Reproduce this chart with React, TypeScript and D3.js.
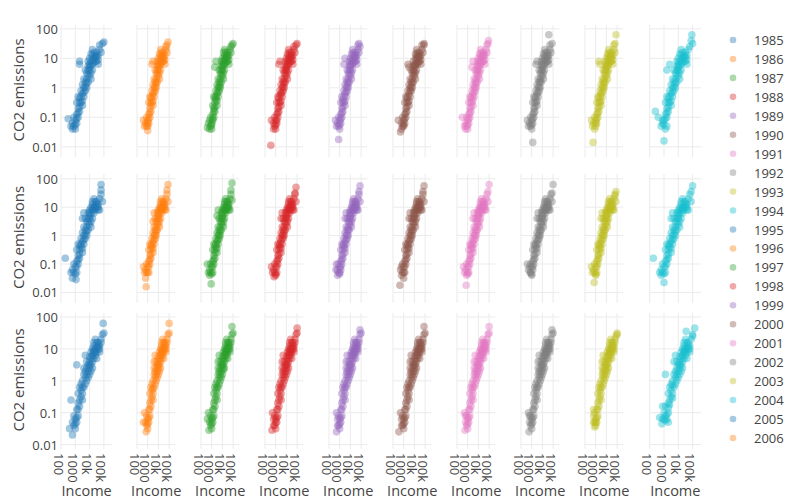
import React from "react";
import * as d3 from "d3";

// Years shown as facets (10 per row) and in the legend (first 22 visible)
const years = [1985,1986,1987,1988,1989,1990,1991,1992,1993,1994,1995,1996,1997,1998,1999,2000,2001,2002,2003,2004,2005,2006,2007,2008,2009,2010,2011,2012,2013,2014];
const legendYears = [1985,1986,1987,1988,1989,1990,1991,1992,1993,1994,1995,1996,1997,1998,1999,2000,2001,2002,2003,2004,2005,2006];
const palette = ["#1f77b4","#ff7f0e","#2ca02c","#d62728","#9467bd","#8c564b","#e377c2","#7f7f7f","#bcbd22","#17becf"];
const xTicks = [100, 1000, 10000, 100000];
const xTickLabels = ["100", "1000", "10k", "100k"];
const yTicks = [0.01, 0.1, 1, 10, 100];
const yTickLabels = ["0.01", "0.1", "1", "10", "100"];

// Per-year points as flat pairs: log10(income), log10(CO2 emissions)
const p1985 = [2.5,-1.05,2.7,-1.3,2.8,-1.4,2.8,-1.2,2.9,-1.3,2.9,-1,3,-1.4,3,-1.1,3.1,-1.2,3.1,-.9,3.2,-1,3.2,-.7,3.1,-.5,3.2,-.3,3.3,-.8,3.3,-.5,3.4,-.5,3.4,-.1,3.5,-.6,3.5,-.2,3.5,.1,3.6,-.3,3.6,0,3.7,-.1,3.7,.2,3.6,.3,3.8,0,3.8,.3,3.8,.5,3.9,.2,3.9,.6,4,.4,4,.7,4.1,.5,4.1,.3,3.7,.6,3.3,.9,3.3,.8,4.2,.6,3.9,.9,4,1,4.1,.9,4.2,1.1,4.2,.8,4.3,1,4.3,1.2,4.4,.9,4.4,1.1,4.5,1.2,4.5,.9,4.6,1.1,4.6,.8,4.2,1.3,4,.8,4.7,1.3,4.7,1.45,4.8,1.2,4.9,1.5,5,1.55,
  3,-1.25,3.1,-1.05,3.2,-.85,3.3,-.65,3.3,-.35,3.4,-.3,3.5,-.45,3.6,-.15,3.7,.05,3.8,.15,3.9,.45,4,.6,4.1,.75,4.2,.95,4.3,.85,4.4,1.05,4.5,1.05,4.6,.95,3.9,.75,4.1,1.15];
const p1986 = [2.6,-1.1,2.7,-1.3,3,-1.45,2.8,-1.2,2.9,-1.3,2.9,-1,3,-1.3,3,-1.1,3.1,-1.2,3.1,-.9,3.2,-1,3.2,-.7,3.1,-.5,3.2,-.3,3.3,-.8,3.3,-.5,3.4,-.5,3.4,-.1,3.5,-.6,3.5,-.2,3.5,.1,3.6,-.3,3.6,0,3.7,-.1,3.7,.2,3.6,.3,3.8,0,3.8,.3,3.8,.5,3.9,.2,3.9,.6,4,.4,4,.7,4.1,.5,4.1,.3,3.7,.6,3.4,.8,3.5,.9,4.2,.6,3.9,.9,4,1,4.1,.9,4.2,1.1,4.2,.8,4.3,1,4.3,1.2,4.4,.9,4.4,1.1,4.5,1.2,4.5,.9,4.6,1.1,4.6,.8,4.2,1.3,4,.8,4.7,1.3,4.7,1.4,4.8,1.2,4.8,1.45,4.9,1.55,
  3,-1.2,3.1,-1.05,3.2,-.85,3.3,-.6,3.3,-.35,3.4,-.3,3.5,-.45,3.6,-.15,3.7,.05,3.8,.15,3.9,.45,4,.6,4.1,.75,4.2,.95,4.3,.85,4.4,1.05,4.5,1,4.6,.95,3.9,.75,4.1,1.15];
const p1987 = [2.6,-1.35,2.7,-1.2,2.8,-1.4,2.8,-1.1,2.9,-1.3,2.9,-1,3,-1.4,3,-1.2,3.1,-1.1,3.1,-.9,3.2,-1,3.2,-.7,3.1,-.6,3.2,-.3,3.3,-.8,3.3,-.5,3.4,-.4,3.4,-.1,3.5,-.6,3.5,-.2,3.5,.1,3.6,-.3,3.6,0,3.7,-.1,3.7,.2,3.6,.3,3.8,0,3.8,.3,3.8,.5,3.9,.2,3.9,.6,4,.4,4,.7,4.1,.5,4.1,.3,3.7,.6,3.4,.9,3.3,.7,4.2,.6,3.9,.9,4,1,4.1,.9,4.2,1.1,4.2,.8,4.3,1,4.3,1.2,4.4,.9,4.4,1.1,4.5,1.2,4.5,.9,4.6,1.1,4.6,.8,4.2,1.3,4,.8,4.7,1.3,4.8,1.4,4.8,1.2,4.9,1.45,5,1.5,
  3,-1.25,3.1,-1.05,3.2,-.8,3.3,-.65,3.3,-.35,3.4,-.3,3.5,-.45,3.6,-.15,3.7,.05,3.8,.1,3.9,.45,4,.6,4.1,.75,4.2,.95,4.3,.85,4.4,1.05,4.5,1.05,4.6,.95,3.9,.75,4.1,1.2];
const p1988 = [2.55,-1.95,2.6,-1.1,2.8,-1.4,2.8,-1.2,2.9,-1.3,2.9,-1,3,-1.4,3,-1.1,3.1,-1.2,3.1,-.9,3.2,-1,3.2,-.7,3.1,-.5,3.2,-.3,3.3,-.8,3.3,-.5,3.4,-.5,3.4,-.1,3.5,-.6,3.5,-.2,3.5,.1,3.6,-.3,3.6,0,3.7,-.1,3.7,.2,3.6,.3,3.8,0,3.8,.3,3.8,.5,3.9,.2,3.9,.6,4,.4,4,.7,4.1,.5,4.1,.3,3.7,.6,3.4,.9,3.3,.8,4.2,.6,3.9,.9,4,1,4.1,.9,4.2,1.1,4.2,.8,4.3,1,4.3,1.2,4.4,.9,4.4,1.1,4.5,1.2,4.5,.9,4.6,1.1,4.6,.8,4.2,1.3,4,.8,4.7,1.3,4.7,1.4,4.8,1.2,4.9,1.45,5,1.5,
  3,-1.25,3.1,-1.1,3.2,-.85,3.3,-.65,3.3,-.35,3.4,-.25,3.5,-.45,3.6,-.15,3.7,.05,3.8,.15,3.9,.45,4,.6,4.1,.75,4.2,.95,4.3,.85,4.4,1.05,4.5,1.05,4.6,.95,3.9,.7,4.1,1.15];
const p1989 = [2.6,-1.1,2.7,-1.3,2.9,-1.75,2.8,-1.2,2.9,-1.3,2.9,-1,3,-1.4,3,-1.1,3.1,-1.2,3.1,-.9,3.2,-1,3.2,-.7,3.1,-.5,3.2,-.3,3.3,-.8,3.3,-.5,3.4,-.5,3.4,-.1,3.5,-.6,3.5,-.2,3.5,.1,3.6,-.3,3.6,0,3.7,-.1,3.7,.2,3.6,.3,3.8,0,3.8,.3,3.8,.5,3.9,.2,3.9,.6,4,.4,4,.7,4.1,.5,4.1,.3,3.7,.6,3.4,.8,3.5,1,4.2,.6,3.9,.9,4,1,4.1,.9,4.2,1.1,4.2,.8,4.3,1,4.3,1.2,4.4,.9,4.4,1.1,4.5,1.2,4.5,.9,4.6,1.1,4.6,.8,4.2,1.3,4,.8,4.7,1.3,4.7,1.45,4.8,1.2,4.8,1.5,4.9,1.4,
  3,-1.25,3.1,-1.05,3.2,-.85,3.3,-.65,3.3,-.4,3.4,-.3,3.5,-.45,3.6,-.15,3.7,.05,3.8,.15,3.9,.45,4,.6,4.1,.8,4.2,.95,4.3,.85,4.4,1.05,4.5,1.05,4.6,.95,3.9,.75,4.1,1.15];
const p1990 = [2.5,-1.1,2.7,-1.5,2.8,-1.4,2.8,-1.2,2.9,-1.3,2.9,-1,3,-1.3,3,-1.1,3.1,-1.2,3.1,-.9,3.2,-1,3.2,-.7,3.1,-.5,3.2,-.3,3.3,-.8,3.3,-.5,3.4,-.5,3.4,-.1,3.5,-.6,3.5,-.2,3.5,.1,3.6,-.3,3.6,0,3.7,-.1,3.7,.2,3.6,.3,3.8,0,3.8,.3,3.8,.5,3.9,.2,3.9,.6,4,.4,4,.7,4.1,.5,4.1,.3,3.7,.6,3.4,.8,3.5,.7,4.2,.6,3.9,.9,4.1,1,4.1,.8,4.2,1.1,4.3,.8,4.3,1,4.3,1.2,4.4,.9,4.4,1.1,4.5,1.2,4.5,.9,4.6,1.1,4.6,.8,4.2,1.3,4,.8,4.7,1.3,4.7,1.45,4.8,1.2,4.9,1.45,4.9,1.5,
  3,-1.25,3.1,-1.05,3.2,-.85,3.3,-.65,3.3,-.35,3.4,-.3,3.5,-.45,3.6,-.1,3.7,.05,3.8,.15,3.9,.45,4,.55,4.1,.75,4.2,.95,4.3,.85,4.4,1.05,4.5,1.05,4.6,.95,3.9,.75,4.1,1.15];
const p1991 = [2.5,-1,2.7,-1.3,2.8,-1.4,2.8,-1.2,2.9,-1.3,2.9,-1,3,-1.4,3,-1.1,3.1,-1.2,3.1,-.9,3.2,-1,3.2,-.7,3.1,-.5,3.2,-.3,3.3,-.8,3.3,-.5,3.4,-.5,3.4,-.1,3.5,-.6,3.5,-.2,3.5,.1,3.6,-.3,3.6,0,3.7,-.1,3.7,.2,3.6,.3,3.8,0,3.8,.3,3.8,.5,3.9,.2,3.9,.6,4,.4,4,.7,4.1,.5,4.1,.3,3.7,.6,3.5,.9,3.4,.7,4.2,.6,3.9,.9,4,1,4.1,.9,4.2,1.1,4.2,.8,4.3,1,4.3,1.2,4.4,.9,4.4,1.1,4.5,1.2,4.5,.9,4.6,1.1,4.6,.8,4.2,1.3,4,.8,4.7,1.3,4.8,1.45,4.8,1.2,4.9,1.5,4.95,1.6,
  3,-1.25,3.1,-1.05,3.2,-.85,3.3,-.65,3.3,-.35,3.4,-.3,3.5,-.4,3.6,-.15,3.7,.05,3.8,.15,3.9,.45,4,.6,4.1,.75,4.2,.95,4.3,.85,4.4,1.05,4.5,1.1,4.6,.95,3.9,.75,4.1,1.15];
const p1992 = [2.6,-1.1,2.7,-1.3,3.1,-1.85,2.8,-1.2,2.9,-1.3,2.9,-1,3,-1.4,3,-1.1,3.1,-1.2,3.1,-.9,3.2,-1,3.2,-.7,3.1,-.5,3.2,-.3,3.3,-.8,3.3,-.5,3.4,-.5,3.4,-.1,3.5,-.6,3.5,-.2,3.5,.1,3.6,-.3,3.6,0,3.7,-.1,3.7,.2,3.6,.3,3.8,0,3.8,.3,3.8,.5,3.9,.2,3.9,.6,4,.4,4,.7,4.1,.5,4.1,.3,3.7,.6,3.4,.8,3.5,.9,4.2,.6,3.9,.9,4,1,4.1,.9,4.2,1.1,4.2,.8,4.3,1,4.3,1.2,4.4,.9,4.4,1.1,4.5,1.2,4.5,.9,4.6,1.1,4.6,.8,4.2,1.3,4,.8,4.7,1.3,4.7,1.45,4.8,1.2,4.9,1.5,4.6,1.8,
  3,-1.25,3.1,-1.05,3.2,-.85,3.3,-.65,3.3,-.35,3.4,-.3,3.5,-.45,3.6,-.15,3.7,.05,3.8,.2,3.9,.45,4,.6,4.1,.75,4.2,.95,4.3,.85,4.4,1.05,4.5,1.05,4.6,.95,3.9,.75,4.1,1.15];
const p1993 = [2.6,-1.1,2.7,-1.3,2.75,-1.85,2.8,-1.2,2.9,-1.4,2.9,-1,3,-1.3,3,-1.1,3.1,-1.2,3.1,-.9,3.2,-1,3.2,-.7,3.1,-.5,3.2,-.3,3.3,-.8,3.3,-.5,3.4,-.5,3.4,-.1,3.5,-.6,3.5,-.2,3.5,.1,3.6,-.3,3.6,0,3.7,-.1,3.7,.2,3.6,.3,3.8,0,3.8,.3,3.8,.5,3.9,.2,3.9,.6,4,.4,4,.7,4.1,.5,4.1,.3,3.7,.6,3.4,.8,3.3,.9,4.2,.6,3.9,.9,4,1,4.1,.9,4.2,1.1,4.2,.8,4.3,1,4.3,1.2,4.4,.9,4.4,1.1,4.5,1.2,4.5,.9,4.6,1.1,4.6,.8,4.2,1.3,4,.8,4.7,1.3,4.7,1.45,4.8,1.2,4.8,1.5,4.9,1.8,
  3,-1.2,3.1,-1.05,3.2,-.85,3.3,-.65,3.3,-.35,3.4,-.3,3.5,-.45,3.6,-.15,3.7,.05,3.8,.15,3.9,.45,4,.6,4.1,.75,4.2,.95,4.3,.85,4.4,1,4.5,1.05,4.6,.95,3.9,.75,4.1,1.15];
const p1994 = [2.4,-.8,2.6,-1,2.8,-1.3,2.9,-1.2,3.1,-1.4,2.9,-1.1,3,-1.8,3,-1.1,3.2,-1.3,3.1,-.9,3.2,-1,3.2,-.7,3.1,-.5,3.2,-.3,3.3,-.8,3.3,-.5,3.4,-.5,3.4,-.1,3.5,-.6,3.5,-.2,3.5,.1,3.6,-.3,3.6,0,3.7,-.1,3.7,.2,3.6,.3,3.8,0,3.8,.3,3.8,.5,3.9,.2,3.9,.6,4,.4,4,.7,4.1,.5,4.1,.3,3.7,.6,3.2,.6,3.4,.8,4.2,.6,3.9,.9,4,1,4.1,.9,4.2,1.1,4.2,.8,4.3,1,4.3,1.2,4.4,.9,4.4,1.1,4.5,1.2,4.5,.9,4.6,1.1,4.6,.8,4.2,1.3,4,.8,4.7,1.3,4.8,1.4,5,1.5,4.9,1.6,4.95,1.8,
  3,-1.25,3.1,-1.05,3.2,-.85,3.3,-.65,3.3,-.35,3.4,-.3,3.5,-.45,3.6,-.15,3.7,.05,3.8,.15,3.9,.45,4,.6,4.1,.75,4.2,.95,4.3,.85,4.4,1.05,4.5,1.05,4.6,.95,3.9,.75,4.1,1.15];
const p1995 = [2.3,-.8,2.7,-1.3,2.8,-1.5,2.8,-1.2,2.9,-1.3,2.9,-1,3.05,-1.55,3,-1.1,3.1,-1.3,3.1,-.9,3.2,-1,3.2,-.7,3.1,-.5,3.2,-.3,3.3,-.8,3.3,-.5,3.4,-.4,3.4,-.1,3.5,-.6,3.5,-.2,3.5,.1,3.6,-.3,3.6,0,3.7,-.1,3.7,.2,3.6,.3,3.8,0,3.8,.3,3.8,.5,3.9,.2,3.9,.6,4,.4,4,.7,4.1,.5,4.1,.3,3.7,.6,3.5,.6,3.6,.8,4.2,.6,4,.9,4.1,1,4.2,.9,4.2,1.1,4.3,.8,4.3,1,4.4,1.2,4.4,.9,4.5,1.1,4.5,1.2,4.6,.9,4.6,1.1,4.7,.9,4.3,1.3,4,.8,4.7,1.3,4.8,1.45,4.9,1.2,4.8,1.6,4.8,1.8,
  3,-1.35,3.1,-1.1,3.2,-.85,3.3,-.65,3.3,-.35,3.4,-.3,3.5,-.45,3.6,-.15,3.7,.05,3.8,.15,3.9,.45,4,.6,4.1,.75,4.2,.95,4.3,.9,4.4,1.05,4.5,1,4.6,1,3.9,.8,4.2,1.2];
const p1996 = [2.6,-1.1,2.7,-1.3,2.8,-1.5,2.8,-1.2,2.9,-1.3,2.9,-1,2.85,-1.8,3,-1.1,3.1,-1.3,3.1,-.9,3.2,-1,3.2,-.7,3.1,-.5,3.2,-.3,3.3,-.8,3.3,-.5,3.4,-.4,3.4,-.1,3.5,-.6,3.5,-.2,3.5,.1,3.6,-.3,3.6,0,3.7,-.1,3.7,.2,3.6,.3,3.8,0,3.8,.3,3.8,.5,3.9,.2,3.9,.6,4,.4,4,.7,4.1,.5,4.1,.3,3.7,.6,3.5,.5,3.6,.8,4.2,.6,4,.9,4.1,1,4.2,.9,4.2,1.1,4.3,.8,4.3,1,4.4,1.2,4.4,.9,4.5,1.1,4.5,1.2,4.6,.9,4.6,1.1,4.7,.9,4.3,1.3,4,.8,4.7,1.3,4.8,1.45,4.9,1.2,4.8,1.6,4.9,1.8,
  3,-1.3,3.1,-1.1,3.2,-.85,3.3,-.65,3.3,-.35,3.4,-.3,3.5,-.45,3.6,-.15,3.7,.05,3.8,.15,3.9,.45,4,.6,4.1,.75,4.2,.95,4.3,.9,4.4,1.05,4.5,1,4.6,1,3.9,.8,4.2,1.2];
const p1997 = [2.6,-1,2.7,-1.3,2.8,-1.4,2.8,-1.2,2.9,-1.3,2.9,-1,2.95,-1.7,3,-1.1,3.1,-1.3,3.1,-.9,3.2,-1,3.2,-.7,3.1,-.5,3.2,-.3,3.3,-.8,3.3,-.5,3.4,-.4,3.4,-.1,3.5,-.6,3.5,-.2,3.5,.1,3.6,-.3,3.6,0,3.7,-.1,3.7,.2,3.6,.3,3.8,0,3.8,.3,3.8,.5,3.9,.2,3.9,.6,4,.4,4,.7,4.1,.5,4.1,.3,3.7,.6,3.5,.7,3.6,.9,4.2,.6,4,.9,4.1,1,4.2,.9,4.2,1.1,4.3,.8,4.3,1,4.4,1.2,4.4,.9,4.5,1.1,4.5,1.2,4.6,.9,4.6,1.1,4.7,.9,4.3,1.3,4,.8,4.7,1.3,4.8,1.45,4.9,1.25,4.8,1.6,4.9,1.85,
  3,-1.35,3.1,-1.1,3.2,-.85,3.3,-.6,3.3,-.35,3.4,-.3,3.5,-.45,3.6,-.15,3.7,.05,3.8,.15,3.9,.45,4,.6,4.1,.75,4.2,.95,4.3,.9,4.4,1.05,4.5,1,4.6,1,3.9,.8,4.2,1.2];
const p1998 = [2.6,-1.1,2.7,-1.3,2.85,-1.45,2.8,-1.2,2.9,-1.3,2.9,-1,3,-1.4,3,-1.1,3.1,-1.3,3.1,-.9,3.2,-1,3.2,-.7,3.1,-.5,3.2,-.3,3.3,-.8,3.3,-.5,3.4,-.4,3.4,-.1,3.5,-.6,3.5,-.2,3.5,.1,3.6,-.3,3.6,0,3.7,-.1,3.7,.2,3.6,.3,3.8,0,3.8,.3,3.8,.5,3.9,.2,3.9,.6,4,.4,4,.7,4.1,.5,4.1,.3,3.7,.6,3.5,.6,3.6,.8,4.2,.6,4,.9,4.1,1,4.2,.9,4.2,1.1,4.3,.8,4.3,1,4.4,1.2,4.4,.9,4.5,1.1,4.5,1.2,4.6,.9,4.6,1.1,4.7,.9,4.3,1.3,4,.8,4.7,1.3,4.8,1.45,4.9,1.2,4.8,1.5,4.9,1.7,
  3,-1.35,3.1,-1.1,3.2,-.85,3.3,-.65,3.3,-.35,3.4,-.3,3.5,-.45,3.6,-.1,3.7,.05,3.8,.15,3.9,.45,4,.6,4.1,.75,4.2,.95,4.3,.9,4.4,1.05,4.5,1,4.6,1,3.9,.8,4.2,1.2];
const p1999 = [2.65,-1.2,2.7,-1,2.8,-1.4,2.8,-1.2,2.9,-1.3,2.9,-1,3,-1.3,3,-1.1,3.1,-1.2,3.1,-.9,3.2,-1,3.2,-.7,3.1,-.5,3.2,-.3,3.3,-.8,3.3,-.5,3.4,-.4,3.4,-.1,3.5,-.6,3.5,-.2,3.5,.1,3.6,-.3,3.6,0,3.7,-.1,3.7,.2,3.6,.3,3.8,0,3.8,.3,3.8,.5,3.9,.2,3.9,.6,4,.4,4,.7,4.1,.5,4.1,.3,3.7,.6,3.5,.6,3.6,.8,4.2,.6,4,.9,4.1,1,4.2,.9,4.2,1.1,4.3,.8,4.3,1,4.4,1.2,4.4,.9,4.5,1.1,4.5,1.2,4.6,.9,4.6,1.1,4.7,.9,4.3,1.3,4,.8,4.7,1.3,4.8,1.45,4.9,1.2,4.8,1.55,4.9,1.75,
  3,-1.35,3.1,-1.1,3.2,-.85,3.3,-.65,3.3,-.35,3.4,-.3,3.5,-.45,3.6,-.15,3.7,.05,3.8,.2,3.9,.45,4,.6,4.1,.75,4.2,.95,4.3,.9,4.4,1.05,4.5,1,4.6,1,3.9,.8,4.2,1.2];
const p2000 = [2.65,-1.75,2.7,-1.2,2.8,-1.4,2.8,-1.1,2.9,-1.3,2.9,-1,3,-1.5,3,-1.1,3.1,-1.3,3.1,-.9,3.2,-1,3.2,-.7,3.1,-.5,3.2,-.3,3.3,-.8,3.3,-.5,3.4,-.4,3.4,-.1,3.5,-.6,3.5,-.2,3.5,.1,3.6,-.3,3.6,0,3.7,-.1,3.7,.2,3.6,.3,3.8,0,3.8,.3,3.8,.5,3.9,.2,3.9,.6,4,.4,4,.7,4.1,.5,4.1,.3,3.7,.6,3.5,.6,3.6,.8,4.2,.6,4,.9,4.1,1,4.2,.9,4.2,1.1,4.3,.8,4.3,1,4.4,1.2,4.4,.9,4.5,1.1,4.5,1.2,4.6,.9,4.6,1.1,4.7,.9,4.3,1.3,4,.8,4.7,1.3,4.8,1.45,4.9,1.2,4.8,1.55,4.9,1.75,
  3,-1.3,3.1,-1.1,3.2,-.85,3.3,-.65,3.3,-.35,3.4,-.3,3.5,-.45,3.6,-.15,3.7,.05,3.8,.15,3.9,.45,4,.6,4.1,.75,4.2,.95,4.3,.9,4.4,1.05,4.5,1,4.6,1,3.9,.8,4.2,1.2];
const p2001 = [2.6,-1.1,2.7,-1.3,2.85,-1.75,2.8,-1.2,2.9,-1.4,2.9,-1,3,-1.3,3,-1.1,3.1,-1.3,3.1,-.9,3.2,-1,3.2,-.7,3.1,-.5,3.2,-.3,3.3,-.8,3.3,-.5,3.4,-.4,3.4,-.1,3.5,-.6,3.5,-.2,3.5,.1,3.6,-.3,3.6,0,3.7,-.1,3.7,.2,3.6,.3,3.8,0,3.8,.3,3.8,.5,3.9,.2,3.9,.6,4,.4,4,.7,4.1,.5,4.1,.3,3.7,.6,3.5,.6,3.6,.8,4.2,.6,4,.9,4.1,1,4.2,.9,4.2,1.1,4.3,.8,4.3,1,4.4,1.2,4.4,.9,4.5,1.1,4.5,1.2,4.6,.9,4.6,1.1,4.7,.9,4.3,1.3,4,.8,4.7,1.3,4.8,1.45,4.9,1.2,4.9,1.55,5,1.8,
  3,-1.35,3.1,-1.1,3.2,-.85,3.3,-.65,3.3,-.35,3.4,-.3,3.5,-.45,3.6,-.15,3.7,.05,3.8,.15,3.9,.45,4,.65,4.1,.75,4.2,.95,4.3,.9,4.4,1.05,4.5,1,4.6,1,3.9,.8,4.2,1.2];
const p2002 = [2.6,-1,2.7,-1.2,2.85,-1.3,2.8,-1.1,2.9,-1.3,2.9,-1,3,-1.4,3,-1.1,3.1,-1.2,3.1,-.9,3.2,-1,3.2,-.7,3.1,-.5,3.2,-.3,3.3,-.8,3.3,-.5,3.4,-.4,3.4,-.1,3.5,-.6,3.5,-.2,3.5,.1,3.6,-.3,3.6,0,3.7,-.1,3.7,.2,3.6,.3,3.8,0,3.8,.3,3.8,.5,3.9,.2,3.9,.6,4,.4,4,.7,4.1,.5,4.1,.3,3.7,.6,3.5,.6,3.6,.8,4.2,.6,4,.9,4.1,1,4.2,.9,4.2,1.1,4.3,.8,4.3,1,4.4,1.2,4.4,.9,4.5,1.1,4.5,1.2,4.6,.9,4.6,1.1,4.7,.9,4.3,1.3,4,.8,4.7,1.3,4.8,1.45,4.9,1.2,4.9,1.5,5,1.8,
  3,-1.35,3.1,-1.1,3.2,-.85,3.3,-.65,3.3,-.35,3.4,-.3,3.5,-.45,3.6,-.15,3.7,.05,3.8,.15,3.9,.45,4,.6,4.1,.75,4.2,.95,4.3,.9,4.4,1.05,4.5,1,4.6,1,3.9,.8,4.2,1.2];
const p2003 = [2.6,-1.1,2.7,-1.3,2.85,-1.65,2.8,-1.2,2.9,-1.3,2.9,-1,3,-1.4,3,-1.1,3.1,-1.3,3.1,-.9,3.2,-1,3.2,-.7,3.1,-.5,3.2,-.3,3.3,-.8,3.3,-.5,3.4,-.4,3.4,-.1,3.5,-.6,3.5,-.2,3.5,.1,3.6,-.3,3.6,0,3.7,-.1,3.7,.2,3.6,.3,3.8,0,3.8,.3,3.8,.5,3.9,.2,3.9,.6,4,.4,4,.7,4.1,.5,4.1,.3,3.7,.6,3.5,.6,3.6,.8,4.2,.6,4,.9,4.1,1,4.2,.9,4.2,1.1,4.3,.8,4.3,1,4.4,1.2,4.4,.9,4.5,1.1,4.5,1.2,4.6,.9,4.6,1.1,4.7,.9,4.3,1.3,4,.8,4.7,1.3,4.8,1.4,4.9,1.2,4.8,1.45,4.9,1.55,
  3,-1.35,3.1,-1.1,3.2,-.85,3.3,-.65,3.3,-.35,3.4,-.3,3.5,-.45,3.6,-.15,3.7,.05,3.8,.15,3.9,.45,4,.6,4.1,.75,4.2,.95,4.3,.9,4.4,1.05,4.5,1,4.6,1,3.9,.8,4.2,1.2];
const p2004 = [2.25,-.8,2.7,-1.3,2.8,-1.4,2.8,-1.2,2.9,-1.3,2.9,-1,3,-1.65,3,-1.1,3.1,-1.3,3.1,-.9,3.2,-1,3.2,-.7,3.1,-.5,3.2,-.3,3.3,-.8,3.3,-.5,3.4,-.4,3.4,-.1,3.5,-.6,3.5,-.2,3.5,.1,3.6,-.3,3.6,0,3.7,-.1,3.7,.2,3.6,.3,3.8,0,3.8,.3,3.8,.5,3.9,.2,3.9,.6,4,.4,4,.7,4.1,.5,4.1,.3,3.7,.6,3.5,.6,3.6,.8,4.2,.6,4,.9,4.1,1,4.2,.9,4.2,1.1,4.3,.8,4.3,1,4.4,1.2,4.4,.9,4.5,1.1,4.5,1.2,4.6,.9,4.6,1.1,4.7,.9,4.3,1.3,4,.8,4.7,1.3,4.8,1.45,4.9,1.2,4.9,1.55,5,1.75,
  3,-1.35,3.1,-1.1,3.2,-.85,3.3,-.65,3.3,-.35,3.4,-.3,3.5,-.45,3.6,-.15,3.7,.05,3.8,.15,3.9,.45,4,.6,4.1,.75,4.2,.95,4.3,.9,4.4,1.05,4.5,1,4.6,1,3.9,.8,4.2,1.2];
const p2005 = [2.6,-1.5,2.8,-1.7,2.8,-1.3,2.9,-1.4,2.9,-1.1,3,-1.5,3,-1.2,3.1,-1.3,3.1,-.9,3.2,-1.1,3.2,-.7,2.7,-.6,3.2,-.4,3.3,-.6,3.3,-.2,3.4,-.5,3.4,-.1,3.5,-.4,3.5,0,3.6,-.2,3.6,.2,3.7,-.1,3.7,.1,3.8,.2,3.8,0,3.6,.4,3.9,.3,3.9,.5,4,.4,4,.6,4,.2,4.1,.5,4.1,.7,4.2,.6,4.2,.4,3.8,.6,3.1,.5,3.7,.8,4.3,.7,4.1,.9,4.2,1,4.3,.9,4.3,1.1,4.4,.8,4.4,1,4.5,1.2,4.5,.9,4.6,1,4.6,1.2,4.7,.9,4.7,1.1,4.5,.7,4.4,1.3,4.2,.8,4.8,1.3,4.9,1.45,4.8,1.2,5,1.5,4.95,1.8,
  3,-1.35,3.1,-1.15,3.2,-.9,3.3,-.8,3.4,-.3,3.5,-.2,3.5,-.6,3.7,.3,3.8,.4,3.9,.1,4,.5,4.1,.3,4.2,.8,4.3,.95,4.4,.9,4.5,1.05,4.6,1.1,4.7,1,4,.75,4.3,1.2];
const p2006 = [2.6,-1.3,2.85,-1.6,2.8,-1.3,2.9,-1.4,2.9,-1.1,3,-1.5,3,-1.2,3.1,-1.3,3.1,-.9,3.2,-1.1,3.2,-.7,2.7,-1,3.2,-.4,3.3,-.6,3.3,-.2,3.4,-.5,3.4,-.1,3.5,-.4,3.5,0,3.6,-.2,3.6,.2,3.7,-.1,3.7,.1,3.8,.2,3.8,0,3.6,.4,3.9,.3,3.9,.5,4,.4,4,.6,4,.2,4.1,.5,4.1,.7,4.2,.6,4.2,.4,3.8,.6,3.6,.6,3.7,.8,4.3,.7,4.1,.9,4.2,1,4.3,.9,4.3,1.1,4.4,.8,4.4,1,4.5,1.2,4.5,.9,4.6,1,4.6,1.2,4.7,.9,4.7,1.1,4.5,.7,4.4,1.3,4.2,.8,4.8,1.3,4.9,1.45,4.8,1.2,5,1.5,5,1.8,
  3,-1.35,3.1,-1.15,3.2,-.9,3.3,-.8,3.4,-.3,3.5,-.25,3.5,-.6,3.7,.3,3.8,.4,3.9,.1,4,.5,4.1,.3,4.2,.8,4.3,.95,4.4,.9,4.5,1.05,4.6,1.1,4.7,1,4,.75,4.3,1.2];
const p2007 = [2.6,-1.2,2.75,-1.55,2.8,-1.3,2.9,-1.4,2.9,-1.1,3,-1.5,3,-1.2,3.1,-1.3,3.1,-.9,3.2,-1.1,3.2,-.7,2.7,-1,3.2,-.4,3.3,-.6,3.3,-.2,3.4,-.5,3.4,-.1,3.5,-.4,3.5,0,3.6,-.2,3.6,.2,3.7,-.1,3.7,.1,3.8,.2,3.8,0,3.6,.4,3.9,.3,3.9,.5,4,.4,4,.6,4,.2,4.1,.5,4.1,.7,4.2,.6,4.2,.4,3.8,.6,3.6,.6,3.7,.8,4.3,.7,4.1,.9,4.2,1,4.3,.9,4.3,1.1,4.4,.8,4.4,1,4.5,1.2,4.5,.9,4.6,1,4.6,1.2,4.7,.9,4.7,1.1,4.5,.7,4.4,1.3,4.2,.8,4.8,1.3,4.9,1.45,4.8,1.2,5,1.5,4.9,1.7,
  3,-1.35,3.1,-1.15,3.2,-.9,3.3,-.8,3.4,-.3,3.5,-.2,3.5,-.6,3.7,.3,3.8,.4,3.9,.1,4,.5,4.1,.35,4.2,.8,4.3,.95,4.4,.9,4.5,1.05,4.6,1.1,4.7,1,4,.75,4.3,1.2];
const p2008 = [2.65,-1.55,2.8,-1.4,2.8,-1.2,2.9,-1.4,2.9,-1.1,3,-1.5,3,-1.2,3.1,-1.3,3.1,-.9,3.2,-1.1,3.2,-.7,2.7,-1,3.2,-.4,3.3,-.6,3.3,-.2,3.4,-.5,3.4,-.1,3.5,-.4,3.5,0,3.6,-.2,3.6,.2,3.7,-.1,3.7,.1,3.8,.2,3.8,0,3.6,.4,3.9,.3,3.9,.5,4,.4,4,.6,4,.2,4.1,.5,4.1,.7,4.2,.6,4.2,.4,3.8,.6,3.6,.6,3.7,.8,4.3,.7,4.1,.9,4.2,1,4.3,.9,4.3,1.1,4.4,.8,4.4,1,4.5,1.2,4.5,.9,4.6,1,4.6,1.2,4.7,.9,4.7,1.1,4.5,.7,4.4,1.3,4.2,.8,4.8,1.3,4.9,1.45,4.8,1.2,5,1.5,5,1.65,
  3,-1.3,3.1,-1.15,3.2,-.9,3.3,-.8,3.4,-.3,3.5,-.2,3.5,-.6,3.7,.3,3.8,.4,3.9,.1,4,.5,4.1,.3,4.2,.8,4.3,.95,4.4,.9,4.5,1.05,4.6,1.1,4.7,1,4,.75,4.3,1.2];
const p2009 = [2.7,-1.6,2.8,-1.4,2.8,-1.2,2.9,-1.4,2.9,-1.1,3,-1.5,3,-1.2,3.1,-1.3,3.1,-.9,3.2,-1.1,3.2,-.7,2.7,-1,3.2,-.4,3.3,-.6,3.3,-.2,3.4,-.5,3.4,-.1,3.5,-.4,3.5,0,3.6,-.2,3.6,.2,3.7,-.1,3.7,.1,3.8,.2,3.8,0,3.6,.4,3.9,.3,3.9,.5,4,.4,4,.6,4,.2,4.1,.5,4.1,.7,4.2,.6,4.2,.4,3.8,.6,3.6,.6,3.7,.8,4.3,.7,4.1,.9,4.2,1,4.3,.9,4.3,1.1,4.4,.8,4.4,1,4.5,1.2,4.5,.9,4.6,1,4.6,1.2,4.7,.9,4.7,1.1,4.5,.7,4.4,1.3,4.2,.8,4.8,1.3,4.9,1.45,4.8,1.2,5,1.5,4.9,1.6,
  3,-1.35,3.1,-1.15,3.2,-.9,3.3,-.8,3.4,-.3,3.5,-.2,3.5,-.6,3.7,.3,3.8,.4,3.9,.1,4,.5,4.1,.3,4.2,.8,4.3,.95,4.4,.9,4.5,1.05,4.6,1.1,4.7,1,4,.8,4.3,1.2];
const p2010 = [2.55,-1.6,2.8,-1.4,2.8,-1.2,2.9,-1.4,2.9,-1.1,3,-1.5,3,-1.2,3.1,-1.3,3.1,-.9,3.2,-1.1,3.2,-.7,2.7,-1,3.2,-.4,3.3,-.6,3.3,-.2,3.4,-.5,3.4,-.1,3.5,-.4,3.5,0,3.6,-.2,3.6,.2,3.7,-.1,3.7,.1,3.8,.2,3.8,0,3.6,.4,3.9,.3,3.9,.5,4,.4,4,.6,4,.2,4.1,.5,4.1,.7,4.2,.6,4.2,.4,3.8,.6,3.6,.6,3.7,.8,4.3,.7,4.1,.9,4.2,1,4.3,.9,4.3,1.1,4.4,.8,4.4,1,4.5,1.2,4.5,.9,4.6,1,4.6,1.2,4.7,.9,4.7,1.1,4.5,.7,4.4,1.3,4.2,.8,4.8,1.3,4.9,1.45,4.8,1.2,5,1.5,4.9,1.7,
  3,-1.35,3.1,-1.15,3.2,-.9,3.3,-.8,3.4,-.3,3.5,-.2,3.5,-.6,3.7,.3,3.8,.4,3.9,.1,4,.5,4.1,.3,4.2,.8,4.3,.95,4.4,.9,4.5,1.05,4.6,1.1,4.7,1,4,.75,4.3,1.2];
const p2011 = [2.75,-1.55,2.8,-1.3,2.8,-1.1,2.9,-1.4,2.9,-1.1,3,-1.5,3,-1.2,3.1,-1.3,3.1,-.9,3.2,-1.1,3.2,-.7,2.7,-1,3.2,-.4,3.3,-.6,3.3,-.2,3.4,-.5,3.4,-.1,3.5,-.4,3.5,0,3.6,-.2,3.6,.2,3.7,-.1,3.7,.1,3.8,.2,3.8,0,3.6,.4,3.9,.3,3.9,.5,4,.4,4,.6,4,.2,4.1,.5,4.1,.7,4.2,.6,4.2,.4,3.8,.6,3.6,.6,3.7,.8,4.3,.7,4.1,.9,4.2,1,4.3,.9,4.3,1.1,4.4,.8,4.4,1,4.5,1.2,4.5,.9,4.6,1,4.6,1.2,4.7,.9,4.7,1.1,4.5,.7,4.4,1.3,4.2,.8,4.8,1.3,4.9,1.45,4.8,1.2,5,1.5,5,1.7,
  3,-1.35,3.1,-1.15,3.2,-.9,3.3,-.8,3.4,-.3,3.5,-.2,3.5,-.6,3.7,.3,3.8,.4,3.9,.1,4,.5,4.1,.3,4.2,.8,4.3,.95,4.4,.9,4.5,1.05,4.6,1.1,4.7,1,4,.75,4.3,1.2];
const p2012 = [2.75,-1.6,2.8,-1.3,2.8,-1.1,2.9,-1.4,2.9,-1.1,3,-1.5,3,-1.2,3.1,-1.3,3.1,-.9,3.2,-1.1,3.2,-.7,2.7,-1,3.2,-.4,3.3,-.6,3.3,-.2,3.4,-.5,3.4,-.1,3.5,-.4,3.5,0,3.6,-.2,3.6,.2,3.7,-.1,3.7,.1,3.8,.2,3.8,0,3.6,.4,3.9,.3,3.9,.5,4,.4,4,.6,4,.2,4.1,.5,4.1,.7,4.2,.6,4.2,.4,3.8,.6,3.6,.6,3.7,.8,4.3,.7,4.1,.9,4.2,1,4.3,.9,4.3,1.1,4.4,.8,4.4,1,4.5,1.2,4.5,.9,4.6,1,4.6,1.2,4.7,.9,4.7,1.1,4.5,.7,4.4,1.3,4.2,.8,4.8,1.3,4.9,1.45,4.8,1.2,5,1.5,4.9,1.6,
  3,-1.35,3.1,-1.15,3.2,-.9,3.3,-.8,3.4,-.3,3.5,-.2,3.5,-.6,3.7,.3,3.8,.4,3.9,.1,4,.5,4.1,.3,4.2,.8,4.3,.95,4.4,.9,4.5,1.05,4.6,1.1,4.7,1,4,.75,4.3,1.2];
const p2013 = [2.9,-1.45,2.8,-1.3,2.8,-1.1,2.9,-1.3,2.9,-1,3,-1.4,3,-1.2,3.1,-1.3,3.1,-.9,3.2,-1.1,3.2,-.7,2.8,-.9,3.2,-.4,3.3,-.6,3.3,-.2,3.4,-.5,3.4,-.1,3.5,-.4,3.5,0,3.6,-.2,3.6,.2,3.7,-.1,3.7,.1,3.8,.2,3.8,0,3.6,.4,3.9,.3,3.9,.5,4,.4,4,.6,4,.2,4.1,.5,4.1,.7,4.2,.6,4.2,.4,3.8,.6,3.6,.6,3.7,.8,4.3,.7,4.1,.9,4.2,1,4.3,.9,4.3,1.1,4.4,.8,4.4,1,4.5,1.2,4.5,.9,4.6,1,4.6,1.2,4.7,.9,4.7,1.1,4.5,.7,4.4,1.3,4.2,.8,4.8,1.3,4.9,1.4,4.8,1.2,5,1.45,5,1.5,
  3,-1.3,3.1,-1.15,3.2,-.9,3.3,-.8,3.4,-.3,3.5,-.2,3.5,-.6,3.7,.3,3.8,.4,3.9,.1,4,.5,4.1,.3,4.2,.8,4.3,.95,4.4,.9,4.5,1.05,4.6,1.1,4.7,1,4,.75,4.3,1.2];
const p2014 = [2.85,-1.35,2.7,-1.15,3.3,-1.3,2.9,-1.2,3,-1,3.1,-1.1,3,-1.2,3.2,-1.2,3.1,-.8,3.3,-1,3.3,-.7,2.9,-.8,3.3,-.4,3.4,-.6,3.4,-.2,3.5,-.5,3.5,-.1,3.6,-.4,3.6,0,3.7,-.2,3.7,.2,3.8,-.1,3.8,.1,3.9,.2,3.9,0,3.1,.2,4,.3,4,.5,4.1,.4,4.1,.6,4.1,.2,4.2,.5,4.2,.7,4.3,.6,4.3,.4,3.9,.6,3.7,.6,3.8,.8,4.4,.7,4.2,.9,4.3,1,4.4,.9,4.4,1.1,4.5,.8,4.5,1,4.6,1.2,4.6,.9,4.7,1,4.7,1.2,4.8,.9,4.8,1.1,4.6,.7,4.5,1.3,4.3,.8,4.9,1.3,5,1.4,4.55,1.55,5,1.45,5.15,1.65,
  3.1,-1.25,3.2,-1.05,3.3,-.85,3.4,-.75,3.5,-.3,3.6,-.15,3.6,-.55,3.8,.3,3.9,.4,4,.1,4.1,.5,4.2,.3,4.3,.8,4.4,.95,4.5,.9,4.6,1.05,4.7,1.1,4.8,1,4.1,.75,4.4,1.2];

const yearPoints = [p1985,p1986,p1987,p1988,p1989,p1990,p1991,p1992,p1993,p1994,p1995,p1996,p1997,p1998,p1999,p2000,p2001,p2002,p2003,p2004,p2005,p2006,p2007,p2008,p2009,p2010,p2011,p2012,p2013,p2014];

// ---- layout (pixels) ----
const FONT = '"Open Sans", verdana, arial, sans-serif';
const TEXT = "#444";
const GRID = "#ebebeb";
function colGeom(c: number) {
  if (c === 0) return { left: 61, ppd: 14.3, width: 51.3 };
  if (c === 9) return { left: 649.7, ppd: 14.3, width: 51.3 };
  return { left: 137 + 64 * (c - 1), ppd: 10.7, width: 38.4 };
}
const rowGeom = [
  { y100: 28.8, ppd: 29.5, top: 25, bottom: 157 },
  { y100: 178.8, ppd: 28.4, top: 174, bottom: 303 },
  { y100: 317, ppd: 31.9, top: 313, bottom: 449 },
];

function toPairs(flat: number[]) {
  const out: [number, number][] = [];
  for (let i = 0; i + 1 < flat.length; i += 2) out.push([Math.pow(10, flat[i]), Math.pow(10, flat[i + 1])]);
  return out;
}

export default function App() {
  const panels = years.map((yr, i) => {
    const c = i % 10;
    const r = Math.floor(i / 10);
    const cg = colGeom(c);
    const rg = rowGeom[r];
    const x = d3.scaleLog().domain([100, 100000]).range([cg.left, cg.left + 3 * cg.ppd]);
    const y = d3.scaleLog().domain([0.01, 100]).range([rg.y100 + 4 * rg.ppd, rg.y100]);
    return { yr, i, c, r, x, y, L: cg.left, R: cg.left + cg.width, T: rg.top, B: rg.bottom, color: palette[i % 10], pts: toPairs(yearPoints[i]) };
  });

  return (
    <svg width={800} height={500} style={{ position: "absolute", left: 0, top: 0, background: "#fff" }} fontFamily={FONT}>
      <defs>
        {panels.map((p) => (
          <clipPath id={`clip${p.i}`} key={p.i}>
            <rect x={p.L} y={p.T} width={p.R - p.L} height={p.B - p.T} />
          </clipPath>
        ))}
      </defs>
      <rect x={0} y={0} width={800} height={500} fill="#fff" />
      {panels.map((p) => (
        <g key={`g${p.i}`}>
          {xTicks.map((t) => (
            <line key={`vx${t}`} x1={p.x(t)} x2={p.x(t)} y1={p.T} y2={p.B} stroke={GRID} strokeWidth={1} />
          ))}
          {yTicks.map((t) => (
            <line key={`hy${t}`} x1={p.L} x2={p.R} y1={p.y(t)} y2={p.y(t)} stroke={GRID} strokeWidth={1} />
          ))}
          <g clipPath={`url(#clip${p.i})`}>
            {p.pts.map((d, k) => (
              <circle key={k} cx={p.x(d[0])} cy={p.y(d[1])} r={3.8} fill={p.color} opacity={0.42} />
            ))}
          </g>
          {p.c === 0 &&
            yTicks.map((t, k) => (
              <text key={`yl${t}`} x={58} y={p.y(t)} textAnchor="end" dominantBaseline="central" fontSize={13} fill={TEXT}>
                {yTickLabels[k]}
              </text>
            ))}
          {p.c === 0 && (
            <text transform={`translate(24,${(p.T + p.B) / 2 - 1}) rotate(-90)`} textAnchor="middle" fontSize={15} fill={TEXT}>
              CO2 emissions
            </text>
          )}
          {p.r === 2 &&
            xTicks.map((t, k) => (
              <text key={`xl${t}`} transform={`translate(${p.x(t) - 2.5},453) rotate(90)`} textAnchor="start" dominantBaseline="central" fontSize={13} fill={TEXT}>
                {xTickLabels[k]}
              </text>
            ))}
          {p.r === 2 && (
            <text x={(p.L + p.R) / 2} y={496} textAnchor="middle" fontSize={14.5} fill={TEXT}>
              Income
            </text>
          )}
        </g>
      ))}
      {legendYears.map((yr, k) => (
        <g key={`lg${yr}`}>
          <circle cx={733} cy={40 + k * 18.95} r={3.3} fill={palette[k % 10]} opacity={0.4} />
          <text x={754} y={40 + k * 18.95} dominantBaseline="central" fontSize={13} fill={TEXT}>
            {yr}
          </text>
        </g>
      ))}
    </svg>
  );
}
